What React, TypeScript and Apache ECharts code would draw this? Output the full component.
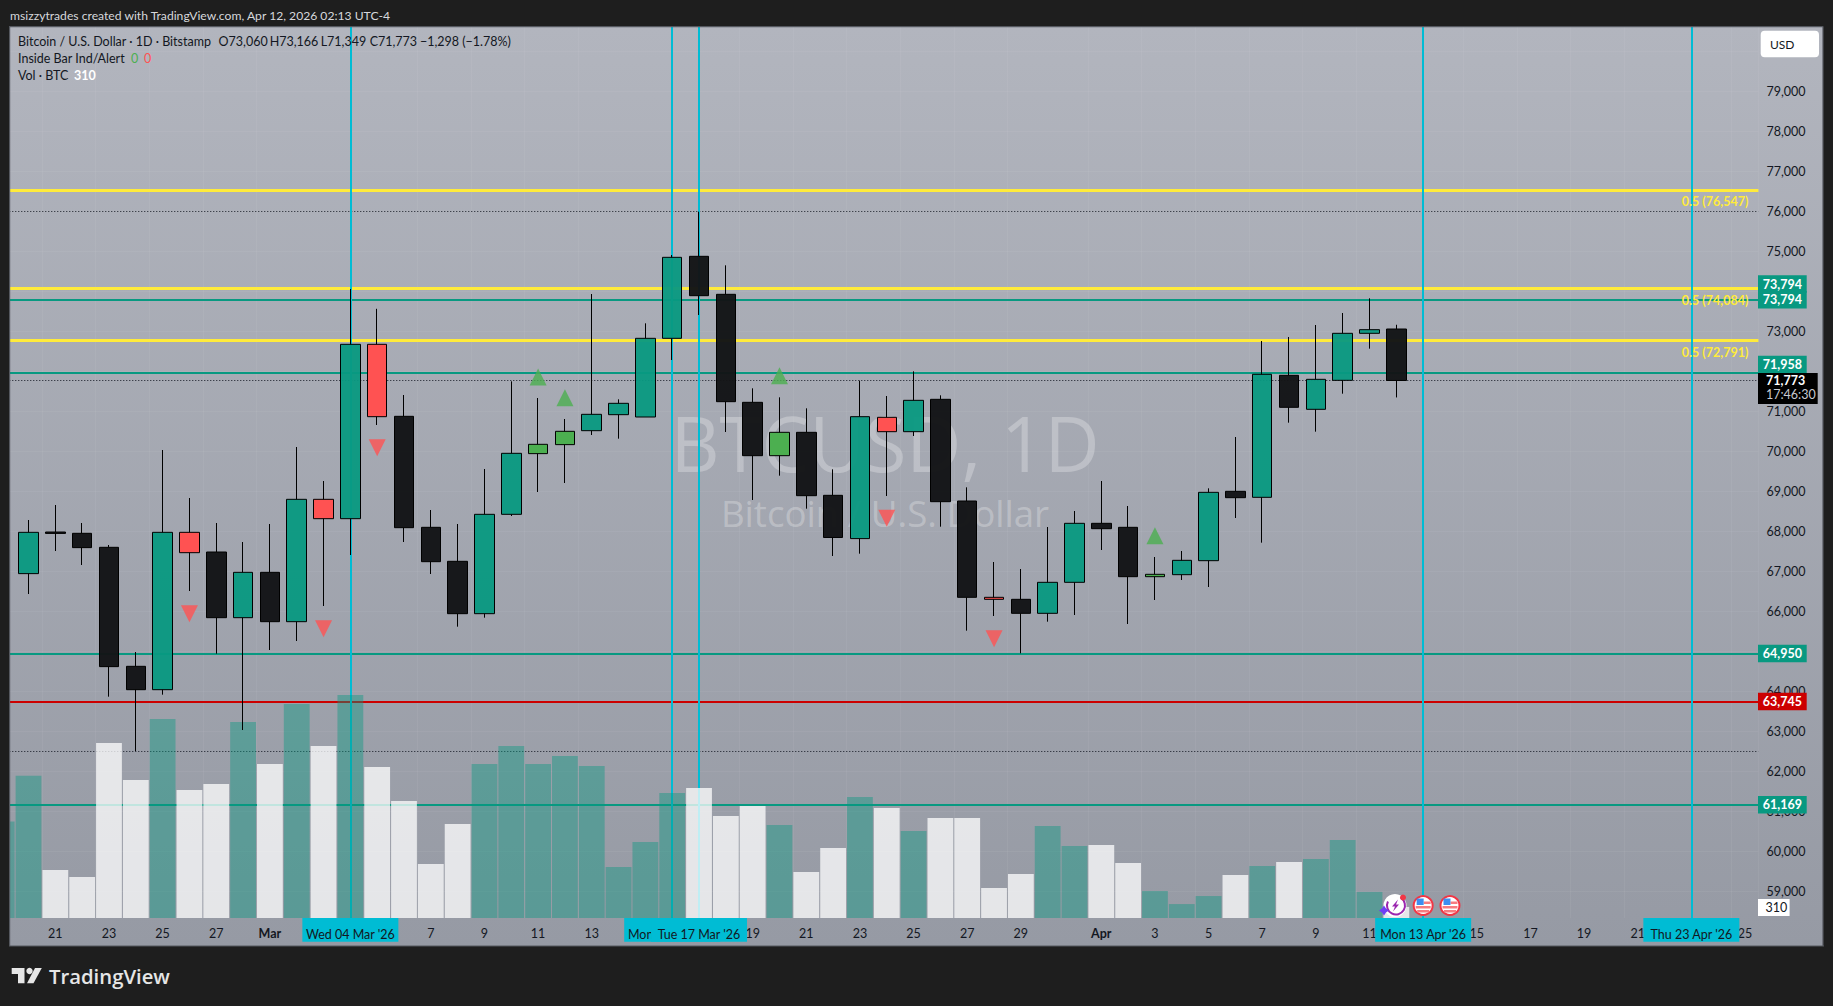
import React, { useEffect, useRef } from "react";
import * as echarts from "echarts";

const categories = [
  "Feb 19","Feb 20","Feb 21","Feb 22","Feb 23","Feb 24","Feb 25","Feb 26","Feb 27","Feb 28",
  "Mar 1","Mar 2","Mar 3","Mar 4","Mar 5","Mar 6","Mar 7","Mar 8","Mar 9","Mar 10","Mar 11","Mar 12","Mar 13","Mar 14","Mar 15","Mar 16","Mar 17","Mar 18","Mar 19","Mar 20","Mar 21","Mar 22","Mar 23","Mar 24","Mar 25","Mar 26","Mar 27","Mar 28","Mar 29","Mar 30","Mar 31",
  "Apr 1","Apr 2","Apr 3","Apr 4","Apr 5","Apr 6","Apr 7","Apr 8","Apr 9","Apr 10","Apr 11","Apr 12","Apr 13","Apr 14","Apr 15","Apr 16","Apr 17","Apr 18","Apr 19","Apr 20","Apr 21","Apr 22","Apr 23","Apr 24","Apr 25",
];

const tickLabels: Record<string, string> = {
  "Feb 21":"21","Feb 23":"23","Feb 25":"25","Feb 27":"27","Mar 1":"Mar","Mar 7":"7","Mar 9":"9","Mar 11":"11","Mar 13":"13",
  "Mar 19":"19","Mar 21":"21","Mar 23":"23","Mar 25":"25","Mar 27":"27","Mar 29":"29","Apr 1":"Apr","Apr 3":"3","Apr 5":"5",
  "Apr 7":"7","Apr 9":"9","Apr 11":"11","Apr 15":"15","Apr 17":"17","Apr 19":"19","Apr 21":"21","Apr 25":"25",
};

const opens = [null,66944,67985,67952,67602,64627,64043,67977,67485,65843,66977,65743,68802,68318,72677,70877,68102,67252,65943,68427,69944,70169,70518,70918,70860,72827,74877,73927,71227,69893,70477,68902,67820,70852,70493,71302,68760,66352,66302,65952,66727,68202,68102,66868,66918,67268,69002,68852,71902,71052,71777,72952,73060];
const closes = [null,67977,67950,67594,64619,64043,67977,67468,65843,66977,65743,68802,68318,72677,70868,68093,67243,65943,68427,69952,70177,70502,70927,71202,72827,74852,73893,71243,69893,70477,68893,67848,70868,70493,71277,68743,66352,66302,65952,66727,68202,68068,66868,66927,67277,68977,68843,71927,71102,71802,72952,73043,71773];
const lows = [null,66435,67510,67160,63868,62510,63918,66510,64943,63035,65035,65260,66135,67410,70660,67735,66935,65618,65843,68385,68985,69210,70410,70318,70860,72285,73410,70485,68785,69393,68568,67385,67443,68885,70385,68118,65518,65885,64952,65743,65910,67535,65685,66285,66785,66610,68335,67718,70718,70493,71443,72568,71349];
const highs = [null,68285,68660,68210,67660,64985,70035,68835,68210,67735,68185,70110,69260,74060,73565,71410,68535,68185,69560,71752,71335,70810,73935,71302,73202,74910,75993,74652,71577,71352,71077,69552,71768,71385,72002,71402,69102,67235,67060,68110,68510,69260,68635,67360,67510,69077,70360,72760,72860,73160,73460,73827,73166];
const volumes = [2700,3980,1345,1150,4900,3865,5570,3585,3750,5490,4310,5990,4815,6245,4230,3275,1510,2630,4310,4815,4310,4535,4255,1430,2130,3500,3640,2855,3135,2605,1290,1960,3390,3080,2435,2800,2800,840,1230,2575,2015,2045,1540,755,390,615,1205,1455,1570,1650,2185,730,310];

const redDays = ["Feb 26","Mar 3","Mar 5","Mar 24","Mar 28"];
const greenDays = ["Mar 11","Mar 12","Mar 20","Apr 3"];
const upSignals: [string, number][] = [["Mar 11",71860],["Mar 12",71343],["Mar 20",71893],["Apr 3",67893]];
const downSignals: [string, number][] = [["Feb 26",65944],["Mar 3",65569],["Mar 5",70093],["Mar 24",68327],["Mar 28",65318]];

const fibLevels = [76547, 74084, 72791];
const fibDrawn = [76530, 74070, 72770];
const tealLevels = [73794, 71958, 64950, 61169];
const redLevels = [63745];
const dottedLevels = [76000, 71773, 62500];
const sessionDays = ["Mar 4","Mar 16","Mar 17","Apr 13","Apr 23"];
const sessionTexts = ["Wed 04 Mar '26","Mon 16 Mar '26","Tue 17 Mar '26","Mon 13 Apr '26","Thu 23 Apr '26"];
const sessionDrawOrder = [0,1,2,3,4];

const FONT = "Lato, 'Noto Sans', sans-serif";
const TEAL = "#089981";
const CYAN = "#00bcd4";
const INK = "#131722";
const DARK = "#1e1e1e";
const OFF = 12; // the chart canvas starts this many pixels left of the page, so the first bar can be cut by the panel

const fmt = (n: number) => n.toLocaleString("en-US");

function txt(text: string, x: number, y: number, fill: string, fontSize = 12.5, extra: any = {}, z = 30) {
  return {
    type: "text", z, silent: true,
    style: { text, x, y, fill, fontSize, fontFamily: FONT, textVerticalAlign: "middle", ...extra },
  };
}
function box(x: number, y: number, width: number, height: number, fill: any, z = 30, r = 0, extra: any = {}) {
  return { type: "rect", z, silent: true, shape: { x, y, width, height, r }, style: { fill, ...extra } };
}

function flag(cx: number, cy: number) {
  return [
    { type: "circle", z: 26, silent: true, shape: { cx, cy, r: 9.5 }, style: { fill: "#fff", stroke: "#f23645", lineWidth: 2 } },
    box(cx - 7.5, cy + 0.5, 15, 2.5, "#f77c80", 27),
    box(cx - 6, cy + 4.5, 12, 2.5, "#f77c80", 27),
    box(cx + 0.5, cy - 4, 7, 2.5, "#f77c80", 27),
    box(cx - 6.5, cy - 7, 7, 6.5, "#3d8ef0", 27),
  ];
}

export default function App() {
  const ref = useRef<HTMLDivElement>(null);
  useEffect(() => {
    document.body.style.margin = "0";
    document.body.style.background = DARK;
    document.body.style.overflow = "hidden";
    const chart = echarts.init(ref.current!, undefined, { renderer: "svg" });

    const candleData = categories.slice(0, opens.length).map((day, i) => {
      if (opens[i] == null) return { value: ["-", "-", "-", "-"] };
      const up = (closes[i] as number) >= (opens[i] as number);
      const fill = redDays.includes(day) ? "#ff5252" : greenDays.includes(day) ? "#4caf50" : up ? "rgba(8,153,129,0.95)" : "rgba(19,20,22,0.97)";
      return {
        value: [opens[i], closes[i], lows[i], highs[i]],
        itemStyle: { color: fill, color0: fill, borderColor: "#000", borderColor0: "#000", borderWidth: 1 },
      };
    });
    const volData = volumes.map((v, i) => ({
      value: v,
      itemStyle: { color: i === 0 || (closes[i] as number) >= (opens[i] as number) ? "rgba(8,153,129,0.42)" : "rgba(255,255,255,0.75)" },
    }));

    const flatLine = (yAxis: number, color: string, width: number, type: any = "solid") => ({
      yAxis, lineStyle: { color, width, type }, label: { show: false },
    });

    const option: any = {
      animation: false,
      backgroundColor: DARK,
      grid: [
        { left: 0.29, width: 1770.12, top: 51.4, height: 840 },
        { left: 0.29, width: 1770.12, top: 27, height: 891 },
      ],
      xAxis: [
        { type: "category", gridIndex: 0, data: categories, show: false },
        {
          type: "category", gridIndex: 1, data: categories, z: 0,
          axisLine: { show: false }, axisTick: { show: false },
          splitLine: { show: true, interval: (_: number, v: string) => !!tickLabels[v], lineStyle: { color: "rgba(255,255,255,0.05)", width: 1 } },
          axisLabel: {
            interval: 0, margin: 9, color: INK, fontSize: 12.5, fontFamily: FONT,
            formatter: (v: string) => {
              const t = tickLabels[v];
              if (!t) return "";
              return t === "Mar" || t === "Apr" ? `{b|${t}}` : t;
            },
            rich: { b: { fontWeight: "bold", fontSize: 12.5, fontFamily: FONT, color: INK } },
          },
        },
      ],
      yAxis: [
        {
          type: "value", gridIndex: 0, position: "right", min: 59000, max: 80000, interval: 1000, z: 0,
          axisLine: { show: false }, axisTick: { show: false },
          splitLine: { show: true, lineStyle: { color: "rgba(255,255,255,0.05)", width: 1 } },
          axisLabel: { margin: 8, color: INK, fontSize: 12.5, fontFamily: FONT, formatter: (v: number) => (v > 79000 ? "" : fmt(v)) },
        },
        { type: "value", gridIndex: 1, min: 0, max: 24948, show: false, splitLine: { show: false } },
      ],
      series: [
        {
          type: "line", name: "Levels", xAxisIndex: 0, yAxisIndex: 0, data: [], z: 1, silent: true,
          markLine: {
            silent: true, z: 1, symbol: "none", animation: false,
            data: [
              ...dottedLevels.map((v) => flatLine(v, "#131722", 1, [1, 2])),
              ...tealLevels.map((v) => flatLine(v, TEAL, 1.8)),
              ...redLevels.map((v) => flatLine(v, "#cc0000", 2)),
              ...fibDrawn.map((v, i) => ({
                yAxis: v,
                lineStyle: { color: "#ffeb3b", width: 3, type: "solid" },
                label: {
                  show: true, position: "insideEndBottom", distance: 5, padding: [0, 5, 0, 0],
                  formatter: `0.5 (${fmt(fibLevels[i])})`,
                  color: "#ffeb3b", fontSize: 12.5, fontFamily: FONT, fontWeight: "bold",
                },
              })),
            ],
          },
        },
        {
          type: "line", name: "Sessions", xAxisIndex: 1, yAxisIndex: 1, data: [], z: 1, silent: true,
          markLine: {
            silent: true, z: 1, symbol: "none", animation: false, label: { show: false },
            data: sessionDays.map((d) => ({ xAxis: d, lineStyle: { color: CYAN, width: 2, type: "solid" } })),
          },
        },
        { type: "bar", name: "Vol", xAxisIndex: 1, yAxisIndex: 1, data: volData, barWidth: 25.8, z: 2, silent: true },
        { type: "candlestick", name: "BTCUSD", xAxisIndex: 0, yAxisIndex: 0, data: candleData, barWidth: 20, z: 3, silent: true },
        {
          type: "scatter", name: "Inside Bar up", xAxisIndex: 0, yAxisIndex: 0, z: 4, silent: true,
          data: upSignals, symbol: "triangle", symbolSize: [17, 17], itemStyle: { color: "#4caf50" },
        },
        {
          type: "scatter", name: "Inside Bar down", xAxisIndex: 0, yAxisIndex: 0, z: 4, silent: true,
          data: downSignals, symbol: "triangle", symbolRotate: 180, symbolSize: [17, 17], itemStyle: { color: "#ff5252" },
        },
      ],
    };
    chart.setOption(option);

    const py = (v: number) => chart.convertToPixel({ yAxisIndex: 0 }, v) as number;
    const dx = (d: string) => (chart.convertToPixel({ xAxisIndex: 1 }, d) as number) - OFF;

    const TAG_X = 1758;
    const TAG_W = 48.7;
    const tag = (v: number, label: string, fill: string, yOverride?: number) => {
      const y = yOverride ?? py(v);
      return [
        box(TAG_X, y - 8.75, TAG_W, 17.5, fill, 20),
        txt(label, TAG_X + TAG_W / 2, y, "#fff", 12.5, { textAlign: "center", fontWeight: "bold" }, 21),
      ];
    };

    const sessionW = 96;
    const sessions = sessionDrawOrder.flatMap((i) => {
      const cx = dx(sessionDays[i]);
      const zz = 22 + i * 0.1;
      return [
        box(cx - sessionW / 2, 918, sessionW, 23.7, CYAN, zz),
        txt(sessionTexts[i], cx, 934, INK, 12.5, { textAlign: "center" }, zz + 0.05),
      ];
    });

    const lastY = py(71773);
    const ltX = 1395;
    const iconY = 905.5;

    const graphic: any = {
      elements: [
        {
          type: "group", x: OFF, y: 0,
          children: [
            box(10, 27, 1813, 919, new echarts.graphic.LinearGradient(0, 0, 0, 1, [
              { offset: 0, color: "#b2b5be" }, { offset: 1, color: "#969aa4" },
            ]), -5),
            txt("BTCUSD, 1D", 885, 442, "rgba(255,255,255,0.27)", 76, { textAlign: "center", fontFamily: "'Open Sans', Lato, sans-serif" }, -4),
            txt("Bitcoin / U.S. Dollar", 885, 513, "rgba(255,255,255,0.27)", 36.7, { textAlign: "center", fontFamily: "'Open Sans', Lato, sans-serif" }, -4),
            box(-OFF, 0, 9 + OFF, 1006, DARK, 40),
            box(9, 27, 1.2, 919, "#55585f", 40),
            box(-OFF, 0, 1833 + OFF, 26, DARK, 40),
            box(9, 26, 1815, 1.2, "#55585f", 40),
            box(1823.4, 0, 10, 1006, DARK, 40),
            box(1822.4, 27, 1.2, 919, "#55585f", 40),
            box(-OFF, 946.4, 1833 + OFF, 60, DARK, 40),
            box(9, 945.4, 1815, 1.2, "#55585f", 40),
            txt("msizzytrades created with TradingView.com, Apr 12, 2026 02:13 UTC-4", 10, 15, "#d6d8dc", 12.15, {}, 41),
            txt("Bitcoin / U.S. Dollar · 1D · Bitstamp", 18, 41.7, INK),
            txt("O73,060", 218.6, 41.7, INK),
            txt("H73,166", 269.7, 41.7, INK),
            txt("L71,349", 320.7, 41.7, INK),
            txt("C71,773", 369.7, 41.7, INK),
            txt("−1,298 (−1.78%)", 420, 41.7, INK),
            txt("Inside Bar Ind/Alert", 18, 58.7, INK),
            txt("0", 131, 58.7, "#4caf50"),
            txt("0", 144, 58.7, "#ff5252"),
            txt("Vol · BTC", 18, 75.7, INK),
            txt("310", 74, 75.7, "#ffffff", 12.5, { fontWeight: "bold" }),
            box(1760.7, 30.7, 58.3, 26.6, "#ffffff", 30, 4),
            txt("USD", 1770, 44.2, INK, 12),
            ...tag(73794, "73,794", TEAL, 284),
            ...tag(73794, "73,794", TEAL),
            ...tag(71958, "71,958", TEAL, 364.4),
            ...tag(64950, "64,950", TEAL),
            ...tag(63745, "63,745", "#cc0000"),
            ...tag(61169, "61,169", TEAL),
            box(TAG_X, lastY - 7.5, 59.7, 31, "#000000", 22),
            txt(fmt(71773), TAG_X + 8, lastY, "#ffffff", 12.5, { fontWeight: "bold" }, 23),
            txt("17:46:30", TAG_X + 8, lastY + 14.5, "#c8cad0", 12.5, {}, 23),
            box(TAG_X, 899, 31.6, 17, "#ffffff", 22),
            txt("310", TAG_X + 7.5, 907.5, INK, 12.5, {}, 23),
            ...sessions,
            { type: "circle", z: 26, silent: true, shape: { cx: ltX, cy: iconY, r: 11.5 }, style: { fill: "#ffffff" } },
            { type: "arc", z: 27, silent: true, shape: { cx: ltX + 1, cy: iconY, r: 9, startAngle: -1.0, endAngle: 3.6, clockwise: true }, style: { stroke: "#9c27b0", lineWidth: 2, fill: "none" } },
            { type: "polygon", z: 27, silent: true, shape: { points: [[ltX + 3, iconY - 6], [ltX - 3, iconY + 1], [ltX, iconY + 1], [ltX - 2, iconY + 6], [ltX + 4, iconY - 1], [ltX + 1, iconY - 1]] }, style: { fill: "#9c27b0" } },
            { type: "polygon", z: 28, silent: true, shape: { points: [[ltX - 11, iconY + 0], [ltX - 9, iconY + 3], [ltX - 6, iconY + 5], [ltX - 9, iconY + 7], [ltX - 11, iconY + 10], [ltX - 13, iconY + 7], [ltX - 16, iconY + 5], [ltX - 13, iconY + 3]] }, style: { fill: "#6f3ff5" } },
            { type: "circle", z: 28, silent: true, shape: { cx: ltX + 8, cy: iconY - 8, r: 3 }, style: { fill: "#f23645" } },
            ...flag(dx("Apr 13"), iconY),
            ...flag(dx("Apr 14"), iconY),
            { type: "polygon", z: 41, silent: true, shape: { points: [[11.7, 968], [24.5, 968], [24.5, 983.3], [18, 983.3], [18, 974], [11.7, 974]] }, style: { fill: "#e6e6e6" } },
            { type: "circle", z: 41, silent: true, shape: { cx: 29.5, cy: 971, r: 3.2 }, style: { fill: "#e6e6e6" } },
            { type: "polygon", z: 41, silent: true, shape: { points: [[35, 968], [41.8, 968], [33.5, 983.3], [27, 983.3]] }, style: { fill: "#e6e6e6" } },
            txt("TradingView", 49, 976, "#e6e6e6", 20.3, { fontWeight: 600, fontFamily: "'Open Sans', Lato, sans-serif" }, 41),
          ],
        },
      ],
    };
    chart.setOption({ graphic });

    return () => chart.dispose();
  }, []);
  return <div ref={ref} style={{ position: "absolute", left: -OFF, top: 0, width: 1833 + OFF, height: 1006 }} />;
}
